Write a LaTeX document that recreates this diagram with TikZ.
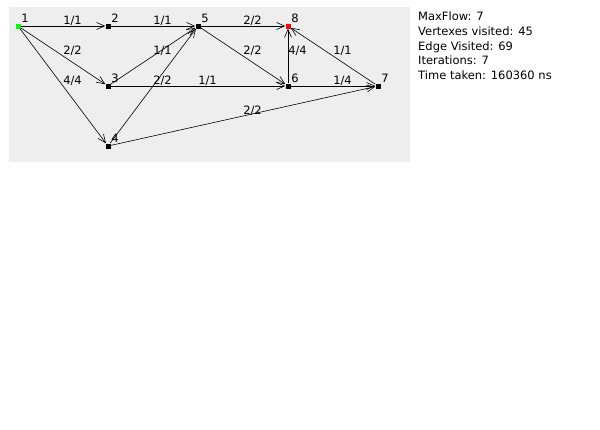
\documentclass[tikz,border=0pt]{standalone}
\usepackage{fontspec}
\setmainfont{DejaVu Sans}
\usetikzlibrary{arrows.meta}
\definecolor{panelgray}{RGB}{238,238,238}

\begin{document}
\begin{tikzpicture}[x=1pt,y=-1pt,
    vtx/.style={fill=black,inner sep=0pt,minimum size=5pt,
      label={[anchor=south west,inner sep=0.5pt,font=\fontsize{11.5}{13}\selectfont]north east:#1}},
    flow/.style={-{Straight Barb[length=8pt,width=7pt]},line width=0.6pt},
    flowlabel/.style={anchor=base west,inner sep=0pt,yshift=1.5pt,font=\fontsize{11.5}{13}\selectfont}]
    \useasboundingbox[fill=white] (0,0) rectangle (600,429);
    \fill[panelgray] (9,7) rectangle (410,162);

    % Vertexes
    \node[vtx=1,fill=green] (v1) at (18,26) {};
    \node[vtx=2] (v2) at (108,26) {};
    \node[vtx=5] (v5) at (198,26) {};
    \node[vtx=8,fill=red] (v8) at (288,26) {};
    \node[vtx=3] (v3) at (108,86) {};
    \node[vtx=6] (v6) at (288,86) {};
    \node[vtx=7] (v7) at (378,86) {};
    \node[vtx=4] (v4) at (108,146) {};

    % Edges with flow/capacity
    \draw[flow] (v1) -- node[flowlabel] {1/1} (v2);
    \draw[flow] (v2) -- node[flowlabel] {1/1} (v5);
    \draw[flow] (v5) -- node[flowlabel] {2/2} (v8);
    \draw[flow] (v1) -- node[flowlabel] {2/2} (v3);
    \draw[flow] (v1) -- node[flowlabel] {4/4} (v4);
    \draw[flow] (v3) -- node[flowlabel] {1/1} (v5);
    \draw[flow] (v3) -- node[flowlabel] {1/1} (v6);
    \draw[flow] (v4) -- node[flowlabel] {2/2} (v5);
    \draw[flow] (v5) -- node[flowlabel] {2/2} (v6);
    \draw[flow] (v6) -- node[flowlabel] {4/4} (v8);
    \draw[flow] (v7) -- node[flowlabel] {1/1} (v8);
    \draw[flow] (v6) -- node[flowlabel] {1/4} (v7);
    \draw[flow] (v4) -- node[flowlabel] {2/2} (v7);

    % Statistics
    \node[anchor=north west,align=left,inner sep=0pt,font=\fontsize{11.5}{14.6}\selectfont] (stats) at (418,12)
      {MaxFlow: 7\\Vertexes visited: 45\\Edge Visited: 69\\Iterations: 7\\Time taken: 160360 ns};
\end{tikzpicture}
\end{document}
